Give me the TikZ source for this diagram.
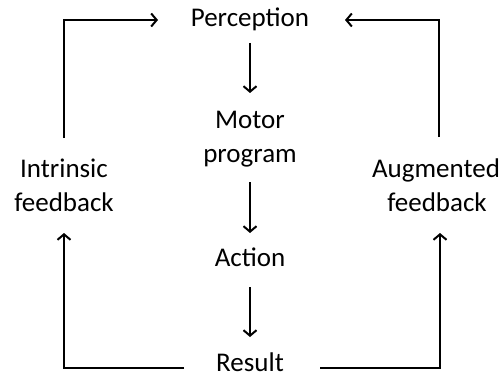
\documentclass[tikz,border=0pt]{standalone}
\usepackage{fontspec}
\setmainfont{Carlito}
\usetikzlibrary{arrows.meta}
\begin{document}
\begin{tikzpicture}[x=1pt,y=1pt,
  lbl/.style={anchor=base,inner sep=0pt,font=\fontsize{27}{34}\selectfont},
  arr/.style={line width=2pt,-{Straight Barb[length=5.5pt,width=13pt]}}]
\useasboundingbox (0,0) rectangle (502,378);
\node[lbl] (perc) at (250,351) {Perception};
\node[lbl] (motor) at (250,250) {Motor};
\node[lbl] (motor2) at (250,216) {program};
\node[lbl] (act) at (250,112) {Action};
\node[lbl] (res) at (250,7) {Result};
\node[lbl] (intr) at (64,201) {Intrinsic};
\node[lbl] (intr2) at (64,167) {feedback};
\node[lbl] (aug) at (436,201) {Augmented};
\node[lbl] (aug2) at (437,167) {feedback};
% main chain
\draw[arr] ([yshift=-16pt]perc.base) -- ([yshift=35pt]motor.base);
\draw[arr] ([yshift=-20pt]motor2.base) -- ([yshift=33pt]act.base);
\draw[arr] ([yshift=-21pt]act.base) -- ([yshift=34pt]res.base);
% loops
\coordinate (rl) at ([xshift=-66pt,yshift=3pt]res.base);
\coordinate (rr) at ([xshift=70pt,yshift=3pt]res.base);
\coordinate (il) at ([yshift=-22pt]intr2.base);
\coordinate (iu) at ([yshift=39pt]intr.base);
\coordinate (pl) at ([xshift=-92pt,yshift=7pt]perc.base);
\coordinate (pr) at ([xshift=95pt,yshift=7pt]perc.base);
\coordinate (al) at ([xshift=3pt,yshift=-22pt]aug2.base);
\coordinate (au) at ([xshift=3pt,yshift=40pt]aug.base);
\draw[arr] (rl) -| (il);
\draw[arr] (iu) |- (pl);
\draw[arr] (rr) -| (al);
\draw[arr] (au) |- (pr);
\end{tikzpicture}
\end{document}
